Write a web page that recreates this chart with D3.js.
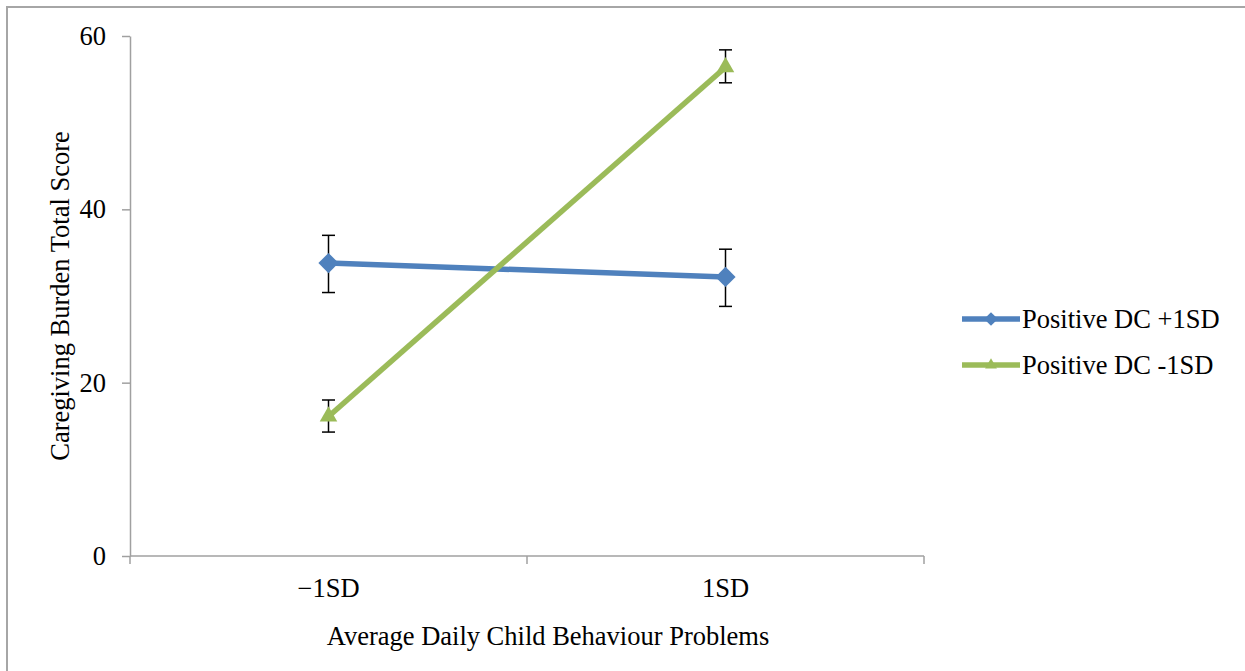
<!DOCTYPE html>
<html>
<head>
<meta charset="utf-8">
<script src="https://cdn.jsdelivr.net/npm/d3@7"></script>
<style>
  body { margin: 0; background: #fff; }
  svg text { font-family: "Liberation Serif", "Times New Roman", serif; fill: #000; }
</style>
</head>
<body>
<script>
// data
var categories = ["\u22121SD", "1SD"];
var seriesNames = ["Positive DC +1SD", "Positive DC -1SD"];
var blueValues = [33.8, 32.2];
var blueUpper = [37.0, 35.4];
var blueLower = [30.4, 28.8];
var greenValues = [16.1, 56.4];
var greenUpper = [18.0, 58.4];
var greenLower = [14.3, 54.6];
var yTicks = [0, 20, 40, 60];

var W = 1245, H = 671,
    plot = {left: 130, right: 924, top: 36, bottom: 556},
    col = {blue: "#4f81bd", green: "#9bbb59", axis: "#a0a0a0", frame: "#a6a6a6"},
    fontSize = {tick: 26.5, title: 26.5, legend: 26.5};

var series = [
    {name: seriesNames[0], values: blueValues, upper: blueUpper, lower: blueLower, color: col.blue, marker: "diamond"},
    {name: seriesNames[1], values: greenValues, upper: greenUpper, lower: greenLower, color: col.green, marker: "triangle"}
];

var svg = d3.select("body").append("svg")
    .attr("width", W)
    .attr("height", H);

// outer frame (top and left edges only are visible)
svg.append("line").attr("x1", 7).attr("x2", W).attr("y1", 7).attr("y2", 7)
    .attr("stroke", col.frame).attr("stroke-width", 2);
svg.append("line").attr("x1", 7).attr("x2", 7).attr("y1", 6).attr("y2", H)
    .attr("stroke", col.frame).attr("stroke-width", 2);

var x = d3.scaleBand()
    .domain(categories)
    .range([plot.left, plot.right]);

var y = d3.scaleLinear()
    .domain([0, 60])
    .range([plot.bottom, plot.top]);

// Y axis
var yAxis = svg.append("g")
    .attr("transform", "translate(" + plot.left + ",0)")
    .call(d3.axisLeft(y).tickValues(yTicks).tickSize(8).tickPadding(16).tickSizeOuter(0));
yAxis.select(".domain").attr("stroke", col.axis).attr("stroke-width", 1.5);
yAxis.selectAll(".tick line").attr("stroke", col.axis).attr("stroke-width", 1.5);
yAxis.selectAll(".tick text")
    .attr("font-family", "Liberation Serif, serif")
    .attr("font-size", fontSize.tick)
    .attr("fill", "#000");

// X axis: ticks at band boundaries, labels at band centres
var xAxis = svg.append("g")
    .attr("transform", "translate(0," + plot.bottom + ")");
xAxis.append("line")
    .attr("x1", plot.left).attr("x2", plot.right)
    .attr("stroke", col.axis).attr("stroke-width", 1.5);
var bounds = categories.map(function(c) { return x(c); }).concat([x(categories[categories.length - 1]) + x.bandwidth()]);
xAxis.selectAll(".xtick")
    .data(bounds)
    .enter().append("line")
    .attr("class", "xtick")
    .attr("x1", function(d) { return d; }).attr("x2", function(d) { return d; })
    .attr("y1", 0).attr("y2", 8)
    .attr("stroke", col.axis).attr("stroke-width", 1.5);
xAxis.selectAll(".xlabel")
    .data(categories)
    .enter().append("text")
    .attr("class", "xlabel")
    .attr("x", function(d) { return x(d) + x.bandwidth() / 2; })
    .attr("y", 41)
    .attr("text-anchor", "middle")
    .attr("font-size", fontSize.tick)
    .text(function(d) { return d; });

// axis titles
svg.append("text")
    .attr("x", 548)
    .attr("y", 645)
    .attr("text-anchor", "middle")
    .attr("font-size", fontSize.title)
    .text("Average Daily Child Behaviour Problems");

svg.append("text")
    .attr("transform", "translate(69," + 296 + ") rotate(-90)")
    .attr("text-anchor", "middle")
    .attr("font-size", fontSize.title)
    .text("Caregiving Burden Total Score");

var cx = function(i) { return x(categories[i]) + x.bandwidth() / 2; };

var diamond = d3.symbol().type(d3.symbolDiamond2);
var triangle = d3.symbol().type(d3.symbolTriangle2);

function markerPath(type, size) {
    return type === "diamond" ? diamond.size(size)() : triangle.size(size)();
}

var line = d3.line()
    .x(function(d, i) { return cx(i); })
    .y(function(d) { return y(d); });

series.forEach(function(s) {
    var g = svg.append("g");
    // error bars
    s.values.forEach(function(v, i) {
        var xc = cx(i);
        g.append("line")
            .attr("x1", xc).attr("x2", xc)
            .attr("y1", y(s.upper[i])).attr("y2", y(s.lower[i]))
            .attr("stroke", "#000").attr("stroke-width", 1.5);
        [s.upper[i], s.lower[i]].forEach(function(e) {
            g.append("line")
                .attr("x1", xc - 6.5).attr("x2", xc + 6.5)
                .attr("y1", y(e)).attr("y2", y(e))
                .attr("stroke", "#000").attr("stroke-width", 1.5);
        });
    });
    g.append("path")
        .datum(s.values)
        .attr("d", line)
        .attr("fill", "none")
        .attr("stroke", s.color)
        .attr("stroke-width", 5.5);
    g.selectAll(".marker")
        .data(s.values)
        .enter().append("path")
        .attr("class", "marker")
        .attr("transform", function(d, i) { return "translate(" + cx(i) + "," + y(d) + ")"; })
        .attr("d", markerPath(s.marker, s.marker === "diamond" ? 260 : 220))
        .attr("fill", s.color);
});

// legend
var legend = svg.append("g")
    .attr("transform", "translate(962,319)");
series.forEach(function(s, i) {
    var lg = legend.append("g").attr("transform", "translate(0," + (i * 46) + ")");
    lg.append("line")
        .attr("x1", 0).attr("x2", 58)
        .attr("stroke", s.color).attr("stroke-width", 5.5);
    lg.append("path")
        .attr("transform", "translate(29,0)")
        .attr("d", markerPath(s.marker, s.marker === "diamond" ? 120 : 100))
        .attr("fill", s.color);
    lg.append("text")
        .attr("x", 60)
        .attr("y", 9)
        .attr("font-size", fontSize.legend)
        .text(s.name);
});
</script>
</body>
</html>
